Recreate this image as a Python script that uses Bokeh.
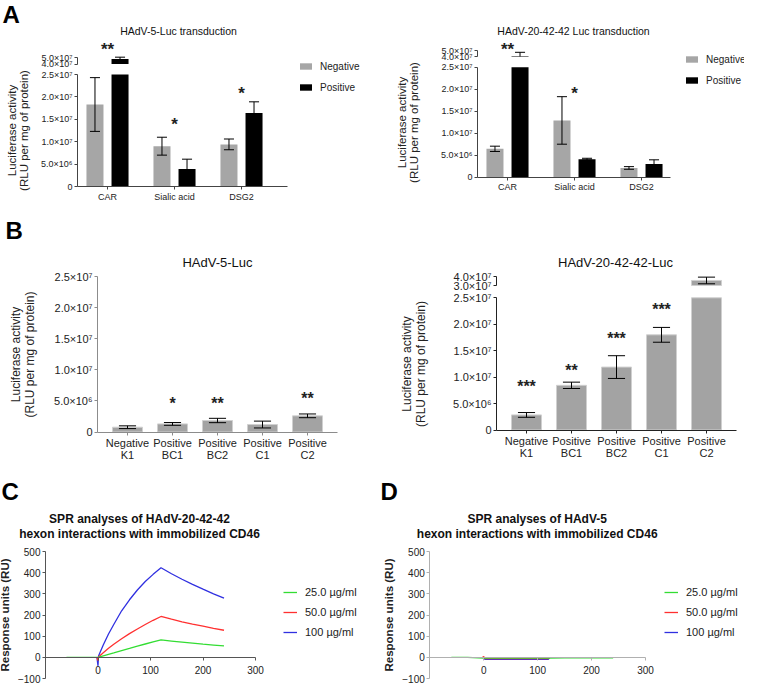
import numpy as np
from bokeh.plotting import figure
from bokeh.models import Range1d, LinearAxis, FixedTicker, Legend, LegendItem, Label
from bokeh.layouts import row, column
from bokeh.embed import file_html
from bokeh.resources import INLINE
from bokeh.core.properties import value

FONT = "Liberation Sans"

# ---------------- data ----------------
a_cats = ["CAR", "Sialic acid", "DSG2"]
group_labels = ["Negative", "Positive"]

a5_neg = [1.83e7, 9.0e6, 9.4e6]
a5_neg_err = [6.0e6, 2.0e6, 1.2e6]
a5_pos = [4.78e7, 3.9e6, 1.64e7]
a5_pos_err = [2.7e6, 2.2e6, 2.5e6]
a5_stars = ["**", "*", "*"]
a5_star_y = [6.85e7, 1.47e7, 2.165e7]

a20_neg = [6.45e6, 1.29e7, 2.1e6]
a20_neg_err = [0.6e6, 5.4e6, 0.3e6]
a20_pos = [4.1e7, 4.1e6, 3.0e6]
a20_pos_err = [6.0e6, 0.2e6, 0.95e6]
a20_stars = ["**", "*", ""]
a20_star_y = [5.83e7, 1.99e7, None]

b_cats = ["Negative\nK1", "Positive\nBC1", "Positive\nBC2", "Positive\nC1", "Positive\nC2"]
b5_vals = [0.77e6, 1.3e6, 1.85e6, 1.2e6, 2.6e6]
b5_err = [0.22e6, 0.22e6, 0.35e6, 0.55e6, 0.3e6]
b5_stars = ["", "*", "**", "", "**"]
b5_star_y = [None, 5.18e6, 5.18e6, None, 5.98e6]

b20_vals = [2.85e6, 8.45e6, 1.19e7, 1.8e7, 3.56e7]
b20_err = [0.45e6, 0.6e6, 2.15e6, 1.4e6, 3.7e6]
b20_stars = ["***", "**", "***", "***", ""]
b20_star_y = [9.04e6, 1.207e7, 1.80e7, 2.35e7, None]

lower_ticks = [0, 5e6, 1e7, 1.5e7, 2e7, 2.5e7]
axis_break = 2.5e7
a_upper_ticks = [4e7, 5e7]
b_upper_ticks = [3e7, 4e7]

conc_labels = ["25.0 µg/ml", "50.0 µg/ml", "100 µg/ml"]
conc_colors = ["#33dd33", "#ff3030", "#3030e0"]

c_t_green = [-60, -30, 0, 10, 20, 30, 45, 60, 75, 90, 105, 120, 140, 160, 180, 200, 220, 240]
c_v_green = [0, 0, 0, 7, 14, 21, 32, 42, 53, 63, 73, 82, 77, 72, 67, 62, 58, 54]
c_t_red = [-2, 0, 1, 10, 20, 30, 45, 60, 75, 90, 105, 120, 140, 160, 180, 200, 220, 240]
c_v_red = [0, -15, 2, 22, 43, 62, 88, 112, 134, 155, 175, 193, 180, 168, 157, 147, 137, 128]
c_t_blue = [-2, 0, 1, 10, 20, 30, 45, 60, 75, 90, 105, 120, 140, 160, 180, 200, 220, 240]
c_v_blue = [0, -40, 6, 58, 110, 155, 220, 272, 318, 358, 392, 423, 395, 369, 345, 322, 300, 280]

d_t_green = [-60, -30, 0, 30, 60, 90, 120, 150, 180, 210, 240]
d_v_green = [0, 0, -4, -4, -4, -4, -4, -2, -2, -2, -2]
d_t_red = [-2, 0, 2, 30, 60, 90, 120, 122]
d_v_red = [0, 4, -6, -6, -6, -6, -6, -2]
d_t_blue = [0, 2, 30, 60, 90, 120, 122]
d_v_blue = [0, -9, -9, -9, -9, -9, -2]

spr_x_ticks = [0, 100, 200, 300]
spr_y_ticks = [-100, 0, 100, 200, 300, 400, 500]

# ---------------- helpers ----------------
SUP = str.maketrans("0123456789-", "⁰¹²³⁴⁵⁶⁷⁸⁹⁻")


def sci(v):
    if v == 0:
        return "0"
    e = int(np.floor(np.log10(abs(v)) + 1e-9))
    return f"{v / 10 ** e:.1f}×10" + str(e).translate(SUP)


def lin(p1, v1, p2, v2):
    """pixel -> value mapping through two pixel anchors (layout only)"""
    s = (v2 - v1) / (p2 - p1)
    return lambda p: v1 + (p - p1) * s


def style_axis(ax, color, tick_font):
    ax.axis_line_color = color
    ax.major_tick_line_color = color
    ax.minor_tick_line_color = None
    ax.major_tick_out = 3
    ax.major_tick_in = 0
    ax.major_label_standoff = 2
    ax.major_label_text_font = FONT
    ax.major_label_text_font_size = tick_font
    ax.major_label_text_color = "#222222"
    ax.axis_label_text_font = FONT
    ax.axis_label_text_font_style = "normal"
    ax.axis_label_text_color = "#222222"


def base_fig(W, H, fx, fy):
    p = figure(width=W, height=H, min_border=0, min_border_left=0, min_border_right=0,
               min_border_top=0, min_border_bottom=0,
               x_range=Range1d(fx(0), fx(W)), y_range=Range1d(fy(H), fy(0)),
               x_axis_location=None, y_axis_location=None, title=None,
               output_backend="svg", toolbar_location=None)
    p.xgrid.visible = False
    p.ygrid.visible = False
    p.outline_line_color = None
    p.background_fill_color = "white"
    p.border_fill_color = "white"
    return p


def add_label(p, x, y, text, size, bold=False, align="center", baseline="middle", lh=1.05):
    p.add_layout(Label(x=x, y=y, text=text, text_font=FONT, text_font_size=size,
                       text_font_style="bold" if bold else "normal",
                       text_color="#111111", text_align=align, text_baseline=baseline,
                       text_line_height=lh))


def letter(p, fx, fy, ch, px, py):
    p.add_layout(Label(x=fx(px), y=fy(py), text=ch, text_font=FONT, text_font_size="24px",
                       text_font_style="bold", text_color="black",
                       text_baseline="middle", text_align="left"))


def bar_axes(p, cats, rule_x, x_end, color, tick_font, cat_font, label_font, label_standoff):
    xa = LinearAxis(fixed_location=0, bounds=(rule_x, x_end),
                    ticker=FixedTicker(ticks=list(range(len(cats)))),
                    major_label_overrides={i: c for i, c in enumerate(cats)})
    style_axis(xa, color, cat_font)
    xa.major_label_text_line_height = 1.0
    p.add_layout(xa, "below")
    ya = LinearAxis(fixed_location=rule_x, bounds=(0, axis_break),
                    ticker=FixedTicker(ticks=lower_ticks),
                    major_label_overrides={int(t): sci(t) for t in lower_ticks})
    style_axis(ya, color, tick_font)
    ya.axis_label = "Luciferase activity\n(RLU per mg of protein)"
    ya.axis_label_text_font_size = label_font
    ya.axis_label_text_line_height = 1.0
    ya.axis_label_standoff = label_standoff
    p.add_layout(ya, "left")


def upper_axis(p, rule_x, ticks, color, tick_font):
    lo, hi = ticks
    ax = LinearAxis(y_range_name="up", fixed_location=rule_x, bounds=(lo, hi),
                    ticker=FixedTicker(ticks=ticks),
                    major_label_overrides={int(t): sci(t) for t in ticks})
    style_axis(ax, color, tick_font)
    p.add_layout(ax, "left")


def draw_bars(p, x, vals, errs, width, cap, fill, line, brk, seg_lo=None):
    x = np.asarray(x, float)
    v = np.asarray(vals, float)
    e = np.asarray(errs, float)
    low = v <= brk
    r = p.vbar(x=x, top=np.minimum(v, brk), bottom=0, width=width,
               fill_color=fill, line_color=line)
    xl, vl, el = x[low], v[low], e[low]
    kw = dict(line_color="black", line_width=1)
    p.segment(x0=xl, y0=vl - el, x1=xl, y1=vl + el, **kw)
    p.segment(x0=xl - cap, y0=vl + el, x1=xl + cap, y1=vl + el, **kw)
    p.segment(x0=xl - cap, y0=vl - el, x1=xl + cap, y1=vl - el, **kw)
    if seg_lo is not None and (~low).any():
        xu, vu, eu = x[~low], v[~low], e[~low]
        p.vbar(x=xu, top=vu, bottom=seg_lo, width=width, fill_color=fill,
               line_color=line, y_range_name="up")
        p.segment(x0=xu, y0=np.maximum(vu - eu, seg_lo), x1=xu, y1=vu + eu,
                  y_range_name="up", **kw)
        p.segment(x0=xu - cap, y0=vu + eu, x1=xu + cap, y1=vu + eu,
                  y_range_name="up", **kw)
        m = (vu - eu) >= seg_lo
        p.segment(x0=(xu - cap)[m], y0=(vu - eu)[m], x1=(xu + cap)[m], y1=(vu - eu)[m],
                  y_range_name="up", **kw)
    return r


def draw_stars(p, x, texts, ys, brk, size):
    lx, ly, lt, ux, uy, ut = [], [], [], [], [], []
    for xi, t, yi in zip(x, texts, ys):
        if not t or yi is None:
            continue
        if yi > brk:
            ux.append(xi); uy.append(yi); ut.append(t)
        else:
            lx.append(xi); ly.append(yi); lt.append(t)
    kw = dict(text_align="center", text_baseline="middle", y_offset=4,
              text_font=value(FONT), text_font_size=value(size), text_font_style="bold",
              text_color="#222222")
    if lt:
        p.text(x=lx, y=ly, text=lt, **kw)
    if ut:
        p.text(x=ux, y=uy, text=ut, y_range_name="up", **kw)


def bar_legend(p, rends, vx, vy):
    leg = Legend(items=[LegendItem(label=l, renderers=[r]) for l, r in zip(group_labels, rends)],
                 location=(vx, vy), padding=0, margin=0, spacing=7,
                 glyph_width=15, glyph_height=8, label_height=14, label_standoff=7,
                 label_text_font=FONT, label_text_font_size="10px",
                 label_text_color="#222222", border_line_color=None,
                 background_fill_alpha=0)
    p.add_layout(leg, "center")


W = 372

# ---------------- A left (HAdV-5) ----------------
H = 200
fx = lin(107, 0, 174, 1)
fy = lin(186, 0, 74, axis_break)
fu = lin(63.5, a_upper_ticks[0], 57, a_upper_ticks[1])
rule_x, x_end = fx(77), fx(287)
pA5 = base_fig(W, H, fx, fy)
pA5.extra_y_ranges = {"up": Range1d(fu(H), fu(0))}
bar_axes(pA5, a_cats, rule_x, x_end, "#444444", "9px", "9px", "11.5px", 8)
upper_axis(pA5, rule_x, a_upper_ticks, "#444444", "9px")
xa = np.arange(len(a_cats))
rn = draw_bars(pA5, xa - 0.187, a5_neg, a5_neg_err, 0.254, 0.075, "#a6a6a6", None, axis_break, a_upper_ticks[0])
rp = draw_bars(pA5, xa + 0.187, a5_pos, a5_pos_err, 0.254, 0.075, "black", None, axis_break, a_upper_ticks[0])
draw_stars(pA5, xa, a5_stars, a5_star_y, axis_break, "17px")
bar_legend(pA5, [rn, rp], 298, 106)
add_label(pA5, fx(178), fy(30), "HAdV-5-Luc transduction", "10.5px")
letter(pA5, fx, fy, "A", 2, 14)

# ---------------- A right (HAdV-20-42-42) ----------------
fx = lin(135, 0, 202, 1)
fy = lin(176.7, 0, 66.7, axis_break)
fu = lin(56, a_upper_ticks[0], 50, a_upper_ticks[1])
rule_x, x_end = fx(105), fx(298)
pA20 = base_fig(W, H, fx, fy)
pA20.extra_y_ranges = {"up": Range1d(fu(H), fu(0))}
bar_axes(pA20, a_cats, rule_x, x_end, "#444444", "9px", "9px", "11.5px", 18)
upper_axis(pA20, rule_x, a_upper_ticks, "#444444", "9px")
rn = draw_bars(pA20, xa - 0.187, a20_neg, a20_neg_err, 0.254, 0.075, "#a6a6a6", None, axis_break, a_upper_ticks[0])
rp = draw_bars(pA20, xa + 0.187, a20_pos, a20_pos_err, 0.254, 0.075, "black", None, axis_break, a_upper_ticks[0])
draw_stars(pA20, xa, a20_stars, a20_star_y, axis_break, "17px")
bar_legend(pA20, [rn, rp], 312, 113)
add_label(pA20, fx(201), fy(30), "HAdV-20-42-42 Luc transduction", "10.5px")

# ---------------- B left (HAdV-5-Luc) ----------------
H = 262
fx = lin(127, 0, 172, 1)
fy = lin(231.5, 0, 76, axis_break)
rule_x, x_end = fx(97), fx(337)
pB5 = base_fig(W, H, fx, fy)
bar_axes(pB5, b_cats, rule_x, x_end, "#8c8c8c", "11px", "11px", "12px", 14)
xb = np.arange(len(b_cats))
draw_bars(pB5, xb, b5_vals, b5_err, 0.667, 0.19, "#a3a3a3", "#d0d0d0", axis_break)
draw_stars(pB5, xb, b5_stars, b5_star_y, axis_break, "16px")
add_label(pB5, fx(217), fy(62), "HAdV-5-Luc", "13px")
letter(pB5, fx, fy, "B", 5, 30)

# ---------------- B right (HAdV-20-42-42-Luc) ----------------
fx = lin(154, 0, 199, 1)
fy = lin(229.5, 0, 97.3, axis_break)
fu = lin(85, b_upper_ticks[0], 76, b_upper_ticks[1])
rule_x, x_end = fx(124), fx(364)
pB20 = base_fig(W, H, fx, fy)
pB20.extra_y_ranges = {"up": Range1d(fu(H), fu(0))}
bar_axes(pB20, b_cats, rule_x, x_end, "#222222", "11px", "11px", "12px", 22)
upper_axis(pB20, rule_x, b_upper_ticks, "#222222", "11px")
draw_bars(pB20, xb, b20_vals, b20_err, 0.667, 0.19, "#a3a3a3", "#d0d0d0", axis_break, b_upper_ticks[0])
draw_stars(pB20, xb, b20_stars, b20_star_y, axis_break, "16px")
add_label(pB20, fx(243), fy(62), "HAdV-20-42-42-Luc", "13px")


# ---------------- C / D (SPR) ----------------
def spr_fig(x_left, x_right, title, title_x, series, axis_color, leg_x, ch, ch_x):
    H = 221
    fx = lin(x_left, -100, x_right, 300)
    fy = lin(216, -100, 89, 500)
    p = base_fig(W, H, fx, fy)
    xa_ = LinearAxis(fixed_location=0, bounds=(-100, 300),
                     ticker=FixedTicker(ticks=spr_x_ticks))
    style_axis(xa_, axis_color, "10px")
    xa_.major_label_standoff = 6
    p.add_layout(xa_, "below")
    ya_ = LinearAxis(fixed_location=-100, bounds=(-100, 500),
                     ticker=FixedTicker(ticks=spr_y_ticks))
    style_axis(ya_, axis_color, "10px")
    ya_.axis_label = "Response units (RU)"
    ya_.axis_label_text_font_style = "bold"
    ya_.axis_label_text_font_size = "11.5px"
    ya_.axis_label_standoff = 4
    p.add_layout(ya_, "left")
    rends = {}
    for idx in (2, 1, 0):
        t, v = series[idx]
        rends[idx] = p.line(t, v, line_color=conc_colors[idx], line_width=1.3)
    leg = Legend(items=[LegendItem(label=conc_labels[i], renderers=[rends[i]]) for i in range(3)],
                 location=(leg_x, 44), padding=0, margin=0, spacing=6,
                 glyph_width=14, glyph_height=14, label_height=14, label_standoff=8,
                 label_text_font=FONT, label_text_font_size="11px",
                 label_text_color="#222222", border_line_color=None,
                 background_fill_alpha=0)
    p.add_layout(leg, "center")
    add_label(p, fx(title_x), fy(64), title, "12px", bold=True)
    letter(p, fx, fy, ch, ch_x, 29)
    return p


pC = spr_fig(45, 255, "SPR analyses of HAdV-20-42-42\nhexon interactions with immobilized CD46", 139,
             [(c_t_green, c_v_green), (c_t_red, c_v_red), (c_t_blue, c_v_blue)],
             "#555555", 283, "C", 1)
pD = spr_fig(57.3, 273, "SPR analyses of HAdV-5\nhexon interactions with immobilized CD46", 164.7,
             [(d_t_green, d_v_green), (d_t_red, d_v_red), (d_t_blue, d_v_blue)],
             "#b0b0b0", 292, "D", 8)

layout = column(row(pA5, pA20), row(pB5, pB20), row(pC, pD))
open("out.html", "w").write(file_html(layout, INLINE))
